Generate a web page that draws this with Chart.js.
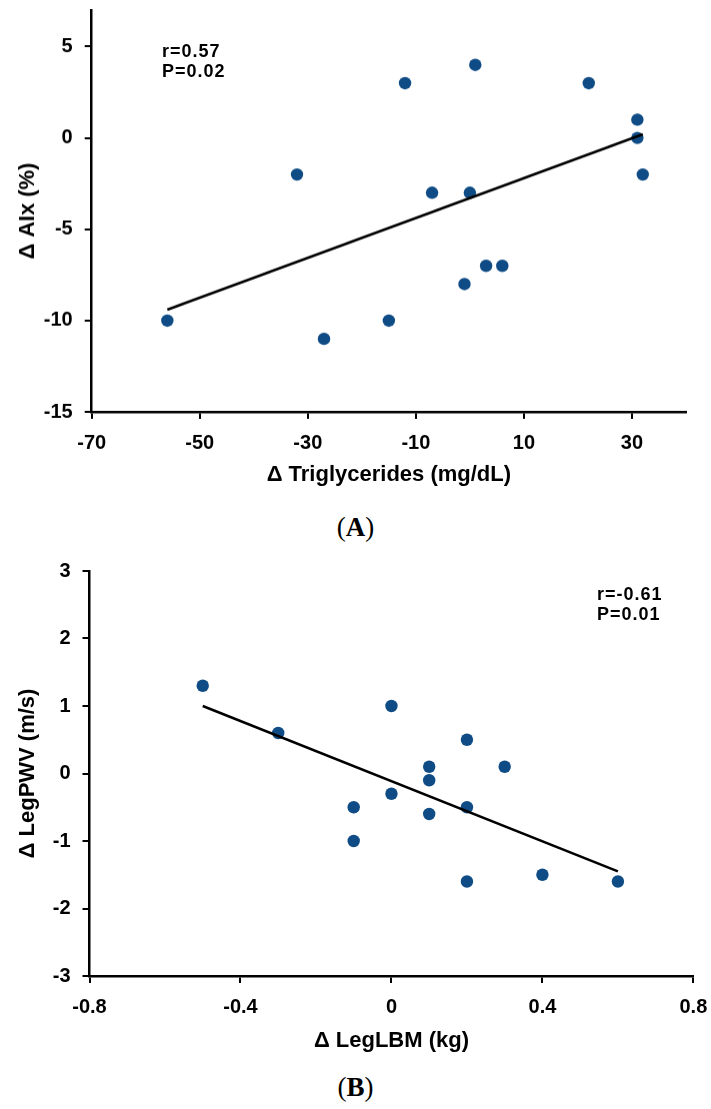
<!DOCTYPE html>
<html>
<head>
<meta charset="utf-8">
<script src="https://cdn.jsdelivr.net/npm/chart.js@4.4.1/dist/chart.umd.min.js"></script>
<style>
  html, body { margin: 0; padding: 0; background: #fff; }
  body { width: 711px; height: 1109px; position: relative; overflow: hidden; font-family: "Liberation Sans", Arial, sans-serif; }
  .wrap { position: absolute; left: 0; }
  .stat { position: absolute; font-weight: bold; font-size: 18px; line-height: 19.5px; letter-spacing: 1px; color: #000; white-space: nowrap; }
  .caption { position: absolute; width: 711px; left: 0; text-align: center; font-family: "Liberation Serif", "Times New Roman", serif; font-size: 27px; line-height: 30px; color: #000; }
</style>
</head>
<body>

<div class="wrap" style="top:-13.7px; width:711px; height:510.7px"><canvas id="chartA"></canvas></div>
<div class="stat" style="left:162px; top:42px">r=0.57<br>P=0.02</div>
<div class="caption" style="top:512px">(<b>A</b>)</div>

<div class="wrap" style="top:547px; width:719.3px; height:512px"><canvas id="chartB"></canvas></div>
<div class="stat" style="left:597px; top:585px">r=-0.61<br>P=0.01</div>
<div class="caption" style="top:1072px">(<b>B</b>)</div>

<script>
// (A) change in triglycerides vs change in AIx
const triglyceridesX = [-56, -32, -27, -15, -12, -7, -1, 0, 1, 3, 6, 22, 31, 31, 32];
const aixY = [-10, -2, -11, -10, 3, -3, -8, -3, 4, -7, -7, 3, 1, 0, -2];
const trendAX = [-56, 32];
const trendAY = [-9.4, 0.2];
const xTicksA = [-70, -50, -30, -10, 10, 30];
const yTicksA = [-15, -10, -5, 0, 5];

// (B) change in leg lean mass vs change in leg PWV
const legLbmX = [-0.5, -0.3, -0.1, -0.1, 0, 0, 0.1, 0.1, 0.1, 0.2, 0.2, 0.2, 0.3, 0.4, 0.6];
const legPwvY = [1.3, 0.6, -0.5, -1, 1, -0.3, 0.1, -0.1, -0.6, 0.5, -0.5, -1.6, 0.1, -1.5, -1.6];
const trendBX = [-0.5, 0.6];
const trendBY = [1.0, -1.45];
const xTicksB = [-0.8, -0.4, 0, 0.4, 0.8];
const yTicksB = [-3, -2, -1, 0, 1, 2, 3];

const DOT = "#0f4c85";
const FONT = "'Liberation Sans', Arial, sans-serif";

function pts(xs, ys) {
  return xs.map((x, i) => ({ x: x, y: ys[i] }));
}

function axis(opts) {
  return {
    type: "linear",
    min: opts.min,
    max: opts.max,
    afterBuildTicks: (a) => { a.ticks = opts.ticks.map((v) => ({ value: v })); },
    afterFit: opts.width ? (a) => { a.width = opts.width; } : undefined,
    border: { display: true, color: "#000", width: 2.5 },
    grid: { display: true, drawOnChartArea: false, drawTicks: true, tickLength: 7, color: "#000", lineWidth: 2 },
    ticks: {
      color: "#000",
      padding: 12,
      maxRotation: 0,
      autoSkip: false,
      font: { family: FONT, size: 20, weight: "bold" },
      callback: (v) => String(v),
    },
    title: {
      display: true,
      text: opts.title,
      color: "#000",
      font: { family: FONT, size: 22, weight: "bold" },
      padding: opts.titlePad,
    },
  };
}

function makeChart(id, xs, ys, tx, ty, cfg) {
  return new Chart(document.getElementById(id), {
    type: "scatter",
    data: {
      datasets: [
        {
          data: pts(tx, ty),
          showLine: true,
          borderColor: "#000",
          borderWidth: 2.5,
          pointRadius: 0,
          order: 0,
        },
        {
          data: pts(xs, ys),
          backgroundColor: DOT,
          borderColor: DOT,
          borderWidth: 0,
          pointRadius: 6.2,
          order: 1,
        },
      ],
    },
    options: {
      responsive: true,
      maintainAspectRatio: false,
      animation: false,
      clip: false,
      layout: { padding: cfg.padding },
      plugins: { legend: { display: false }, tooltip: { enabled: false } },
      scales: { x: cfg.x, y: cfg.y },
    },
  });
}

makeChart("chartA", triglyceridesX, aixY, trendAX, trendAY, {
  padding: { top: 12.3, left: 0, right: 25, bottom: 9.9 },
  x: axis({ min: -70, max: 40, ticks: xTicksA, title: "\u0394 Triglycerides (mg/dL)", titlePad: { top: -5.7, bottom: 0 } }),
  y: axis({ min: -15, max: 7, ticks: yTicksA, title: "\u0394 AIx (%)", titlePad: { top: 14.5, bottom: 0 }, width: 91.7 }),
});

makeChart("chartB", legLbmX, legPwvY, trendBX, trendBY, {
  padding: { top: 12, left: 0, right: 17.7, bottom: 5.1 },
  x: axis({ min: -0.8, max: 0.8, ticks: xTicksB, title: "\u0394 LegLBM (kg)", titlePad: { top: -3.5, bottom: 0 } }),
  y: axis({ min: -3, max: 3, ticks: yTicksB, title: "\u0394 LegPWV (m/s)", titlePad: { top: 14.5, bottom: 0 }, width: 89.5 }),
});
</script>
</body>
</html>
